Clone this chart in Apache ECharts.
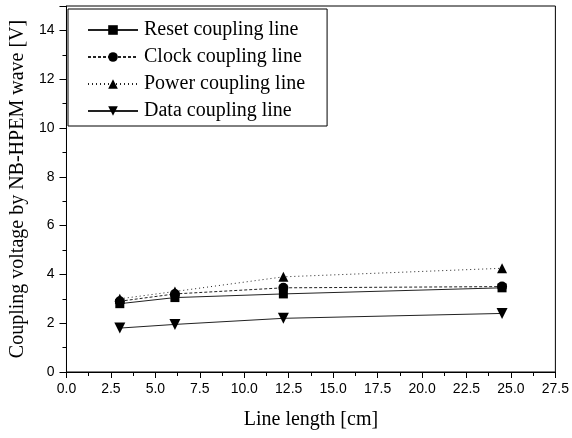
<!DOCTYPE html>
<html><head><meta charset="utf-8">
<script src="https://cdn.jsdelivr.net/npm/echarts@6/dist/echarts.min.js"></script>
<style>html,body{margin:0;padding:0;background:#fff}#c{width:572px;height:438px}</style>
</head><body><div id="c"></div>
<script>
const lineLength = [3.0, 6.1, 12.2, 24.5];
const seriesNames = ['Reset coupling line', 'Clock coupling line', 'Power coupling line', 'Data coupling line'];
const resetValues = [2.8, 3.05, 3.2, 3.45];
const clockValues = [2.9, 3.2, 3.45, 3.5];
const powerValues = [3.0, 3.3, 3.9, 4.25];
const dataValues = [1.8, 1.95, 2.2, 2.4];
const xTickLabels = ['0.0','2.5','5.0','7.5','10.0','12.5','15.0','17.5','20.0','22.5','25.0','27.5'];
const yTickLabels = ['0','2','4','6','8','10','12','14'];

const symbols = ['rect', 'circle', 'triangle', 'path://M0,0 L10,0 L5,10 Z'];
const sizes = [9, 10, 10, 11];
const lineTypes = ['solid', [3, 2], [1, 3], 'solid'];
const allValues = [resetValues, clockValues, powerValues, dataValues];

const chart = echarts.init(document.getElementById('c'));
const serif = '"Liberation Serif", "DejaVu Serif", serif';
const sans = '"Liberation Sans", Arial, sans-serif';
chart.setOption({
  animation: false,
  backgroundColor: '#fff',
  grid: { left: 65, right: 15, top: 6, bottom: 66, show: true, borderColor: '#000', borderWidth: 1 },
  legend: {
    left: 68, top: 9, orient: 'vertical', itemWidth: 50, itemHeight: 12, itemGap: 7,
    padding: [11, 22, 5, 19],
    borderColor: '#000', borderWidth: 1,
    textStyle: { fontFamily: serif, fontSize: 20, color: '#000', padding: [0, 0, 0, 1] },
    data: seriesNames
  },
  xAxis: {
    type: 'value', min: 0, max: 27.5, interval: 2.5,
    name: 'Line length [cm]', nameLocation: 'middle', nameGap: 38,
    nameTextStyle: { fontFamily: serif, fontSize: 20, color: '#000' },
    axisLine: { lineStyle: { color: '#000' } },
    axisTick: { inside: false, length: 6, lineStyle: { color: '#000' } },
    minorTick: { show: true, splitNumber: 2, length: 4, lineStyle: { color: '#000' } },
    splitLine: { show: false },
    axisLabel: { fontFamily: sans, fontSize: 14, color: '#000', margin: 10,
      formatter: v => xTickLabels[Math.round(v / 2.5)] }
  },
  yAxis: {
    type: 'value', min: 0, max: 15, interval: 2,
    name: 'Coupling voltage by NB-HPEM wave [V]', nameLocation: 'middle', nameGap: 35,
    nameTextStyle: { fontFamily: serif, fontSize: 20, color: '#000' },
    axisLine: { lineStyle: { color: '#000' } },
    axisTick: { inside: false, length: 7, lineStyle: { color: '#000' } },
    minorTick: { show: true, splitNumber: 2, length: 4, lineStyle: { color: '#000' } },
    splitLine: { show: false },
    axisLabel: { fontFamily: sans, fontSize: 14, color: '#000', margin: 12, showMaxLabel: false,
      formatter: v => (v % 2 === 0 && v <= 14) ? yTickLabels[v / 2] : '' }
  },
  series: seriesNames.map((name, i) => ({
    name, type: 'line',
    data: lineLength.map((x, j) => [x, allValues[i][j]]),
    symbol: symbols[i], symbolSize: sizes[i], showSymbol: true,
    itemStyle: { color: '#000' },
    lineStyle: { color: '#222', width: 1, type: lineTypes[i] },
    z: 2 + i
  }))
});
</script></body></html>
